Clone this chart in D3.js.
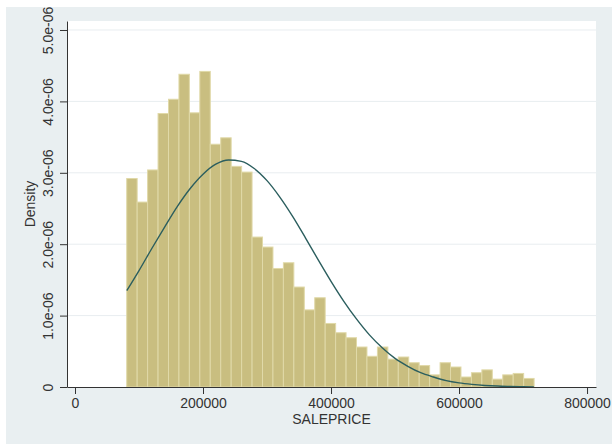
<!doctype html>
<html>
<head>
<meta charset="UTF-8">
<title>SALEPRICE histogram</title>
<script src="https://d3js.org/d3.v7.min.js"></script>
<style>
    body { margin: 0; background: #fff; }
    * { font-family: "Liberation Sans", Arial, sans-serif; }
</style>
</head>
<body>
<svg id="chart" width="612" height="445"></svg>
<script>
// histogram bins (SALEPRICE), density in units of 1e-6
var binStart = 80800;
var binWidth = 16320;
var densities = [2.92, 2.59, 3.04, 3.83, 4.03, 4.38, 3.84, 4.42, 3.40, 3.49,
                 3.09, 3.01, 2.10, 1.96, 1.66, 1.74, 1.40, 1.08, 1.25, 0.89,
                 0.76, 0.69, 0.56, 0.43, 0.56, 0.39, 0.42, 0.34, 0.30, 0.17,
                 0.34, 0.28, 0.14, 0.20, 0.24, 0.11, 0.17, 0.19, 0.12];

// normal density overlay (units of 1e-6)
var curveX = [81000, 100000, 120000, 140000, 160000, 180000, 200000, 220000, 240000, 260000,
              280000, 300000, 320000, 340000, 360000, 380000, 400000, 420000, 440000, 460000,
              480000, 500000, 520000, 540000, 560000, 580000, 600000, 620000, 640000, 660000,
              680000, 700000, 717000];
var curveY = [1.35, 1.63, 1.94, 2.24, 2.53, 2.78, 2.98, 3.12, 3.18, 3.16,
              3.06, 2.89, 2.66, 2.39, 2.09, 1.78, 1.48, 1.20, 0.95, 0.73,
              0.55, 0.40, 0.29, 0.20, 0.14, 0.09, 0.058, 0.037, 0.022, 0.013,
              0.008, 0.004, 0.002];

var xTicks = [0, 200000, 400000, 600000, 800000];
var yTicks = [0, 1, 2, 3, 4, 5];
var yTickLabels = ["0", "1.0e-06", "2.0e-06", "3.0e-06", "4.0e-06", "5.0e-06"];

var svg = d3.select("#chart");

// outer graph region
svg.append("rect")
    .attr("x", 6).attr("y", 7)
    .attr("width", 606).attr("height", 437)
    .attr("fill", "#e9eff1");

var plotLeft = 67, plotRight = 596, plotTop = 21, plotBottom = 387;

svg.append("rect")
    .attr("x", plotLeft).attr("y", plotTop)
    .attr("width", plotRight - plotLeft).attr("height", plotBottom - plotTop)
    .attr("fill", "#ffffff");

var x = d3.scaleLinear().domain([-12500, 814000]).range([plotLeft, plotRight]);
var y = d3.scaleLinear().domain([0, 5.126]).range([plotBottom, plotTop]);

// grid lines
svg.append("g").selectAll("line")
    .data(yTicks.filter(function(d) { return d > 0; }))
    .enter().append("line")
    .attr("x1", plotLeft).attr("x2", plotRight)
    .attr("y1", function(d) { return y(d); })
    .attr("y2", function(d) { return y(d); })
    .attr("stroke", "#e8edf0")
    .attr("stroke-width", 1);

// bars
svg.append("g").selectAll("rect")
    .data(densities)
    .enter().append("rect")
    .attr("x", function(d, i) { return x(binStart + i * binWidth); })
    .attr("width", function(d, i) { return x(binStart + (i + 1) * binWidth) - x(binStart + i * binWidth); })
    .attr("y", function(d) { return y(d); })
    .attr("height", function(d) { return plotBottom - y(d); })
    .attr("fill", "#c9be80")
    .attr("stroke", "#e0d9a8")
    .attr("stroke-width", 1);

// normal curve
var line = d3.line()
    .x(function(d) { return x(d[0]); })
    .y(function(d) { return y(d[1]); })
    .curve(d3.curveMonotoneX);

svg.append("path")
    .datum(curveX.map(function(v, i) { return [v, curveY[i]]; }))
    .attr("d", line)
    .attr("fill", "none")
    .attr("stroke", "#2b5e5e")
    .attr("stroke-width", 1.4);

// axes
var xAxis = svg.append("g")
    .attr("transform", "translate(0," + plotBottom + ")")
    .call(d3.axisBottom(x).tickValues(xTicks).tickFormat(d3.format("d")).tickSize(7).tickSizeOuter(0));

var yAxis = svg.append("g")
    .attr("transform", "translate(" + plotLeft + ",0)")
    .call(d3.axisLeft(y).tickValues(yTicks).tickFormat(function(d, i) { return yTickLabels[i]; })
        .tickSize(7).tickSizeOuter(0));

[xAxis, yAxis].forEach(function(a) {
    a.selectAll("path, line").attr("stroke", "#333").attr("stroke-width", 1);
    a.selectAll("text").attr("fill", "#333").style("font-size", "14px")
        .style("font-family", '"Liberation Sans", Arial, sans-serif');
});

xAxis.selectAll("text").attr("y", 11);

yAxis.selectAll("text")
    .attr("transform", "rotate(-90)")
    .attr("x", 0)
    .attr("y", -14)
    .attr("dy", 0)
    .attr("text-anchor", "middle");

// axis titles
svg.append("text")
    .attr("x", (plotLeft + plotRight) / 2)
    .attr("y", 424)
    .attr("text-anchor", "middle")
    .attr("fill", "#333")
    .style("font-size", "14px")
    .text("SALEPRICE");

svg.append("text")
    .attr("transform", "translate(35," + ((plotTop + plotBottom) / 2) + ") rotate(-90)")
    .attr("text-anchor", "middle")
    .attr("fill", "#333")
    .style("font-size", "14px")
    .text("Density");
</script>
</body>
</html>
